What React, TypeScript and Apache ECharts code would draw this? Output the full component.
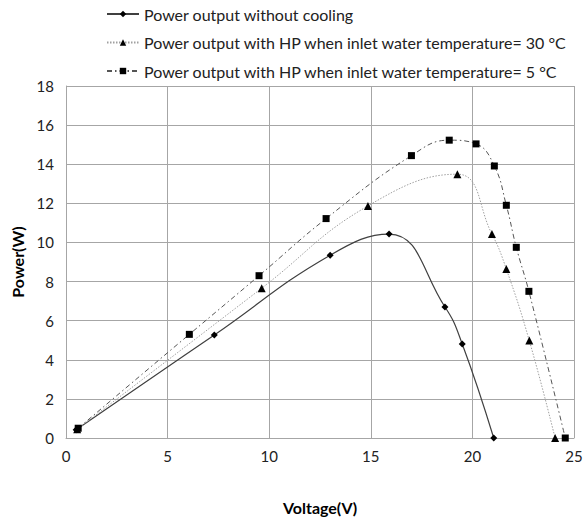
import React, { useEffect, useRef } from "react";
import * as echarts from "echarts";

const seriesNames = [
  "Power output without cooling",
  "Power output with HP when inlet water temperature= 30 °C",
  "Power output with HP when inlet water temperature= 5 °C",
];

const noCoolingV = [0.5, 7.3, 13.0, 15.9, 18.65, 19.5, 21.05];
const noCoolingP = [0.42, 5.27, 9.35, 10.43, 6.7, 4.81, 0];

const hp30V = [0.55, 9.63, 14.86, 19.26, 20.96, 21.67, 22.8, 24.07];
const hp30P = [0.45, 7.66, 11.87, 13.49, 10.43, 8.64, 4.98, 0];

const hp5V = [0.6, 6.07, 9.5, 12.8, 17.0, 18.86, 20.18, 21.08, 21.67, 22.16, 22.78, 24.57];
const hp5P = [0.5, 5.3, 8.3, 11.22, 14.44, 15.23, 15.04, 13.91, 11.9, 9.75, 7.5, 0];

const xTicks = { min: 0, max: 25, interval: 5 };
const yTicks = { min: 0, max: 18, interval: 2 };

const zip = (a: number[], b: number[]) => a.map((v, i) => [v, b[i]]);

export default function App() {
  const ref = useRef<HTMLDivElement>(null);
  useEffect(() => {
    if (!ref.current) return;
    const chart = echarts.init(ref.current, undefined, { renderer: "svg" });
    const font = "Lato, 'Open Sans', sans-serif";
    chart.setOption({
      animation: false,
      backgroundColor: "#ffffff",
      textStyle: { fontFamily: font },
      legend: {
        orient: "vertical",
        left: 101,
        top: 1,
        itemWidth: 32,
        itemHeight: 8,
        itemGap: 12.5,
        textStyle: { fontFamily: font, fontSize: 16, color: "#222" },
        data: seriesNames,
      },
      grid: { left: 66, right: 14, top: 86, bottom: 79, containLabel: false, outerBoundsMode: "none" },
      xAxis: {
        type: "value",
        min: xTicks.min,
        max: xTicks.max,
        interval: xTicks.interval,
        name: "Voltage(V)",
        nameLocation: "middle",
        nameGap: 61,
        nameTextStyle: { fontFamily: font, fontSize: 16, fontWeight: "bold", color: "#000" },
        axisLine: { show: true, lineStyle: { color: "#a6a6a6" } },
        axisTick: { show: false },
        axisLabel: { fontFamily: font, fontSize: 15, color: "#222", margin: 10 },
        splitLine: { show: true, lineStyle: { color: "#a6a6a6", width: 1 } },
      },
      yAxis: {
        type: "value",
        min: yTicks.min,
        max: yTicks.max,
        interval: yTicks.interval,
        name: "Power(W)",
        nameLocation: "middle",
        nameGap: 38,
        nameTextStyle: { fontFamily: font, fontSize: 16, fontWeight: "bold", color: "#000" },
        axisLine: { show: true, lineStyle: { color: "#a6a6a6" } },
        axisTick: { show: false },
        axisLabel: { fontFamily: font, fontSize: 15, color: "#222", margin: 12 },
        splitLine: { show: true, lineStyle: { color: "#a6a6a6", width: 1 } },
      },
      series: [
        {
          name: seriesNames[0],
          type: "line",
          data: zip(noCoolingV, noCoolingP),
          smooth: 0.45,
          symbol: "diamond",
          symbolSize: 7,
          itemStyle: { color: "#000" },
          lineStyle: { color: "#404040", width: 1.2, type: "solid" },
          z: 3,
        },
        {
          name: seriesNames[1],
          type: "line",
          data: zip(hp30V, hp30P),
          smooth: 0.45,
          symbol: "triangle",
          symbolSize: 8,
          itemStyle: { color: "#000" },
          lineStyle: { color: "#a0a0a0", width: 1, type: [1.5, 1.5] },
          z: 3,
        },
        {
          name: seriesNames[2],
          type: "line",
          data: zip(hp5V, hp5P),
          smooth: 0.45,
          symbol: "rect",
          symbolSize: 7,
          itemStyle: { color: "#000" },
          lineStyle: { color: "#555", width: 1, type: [5, 3, 1.5, 3] },
          z: 3,
        },
      ],
    });
    return () => chart.dispose();
  }, []);
  return <div ref={ref} style={{ width: 588, height: 517, position: "absolute", left: 0, top: 0 }} />;
}
